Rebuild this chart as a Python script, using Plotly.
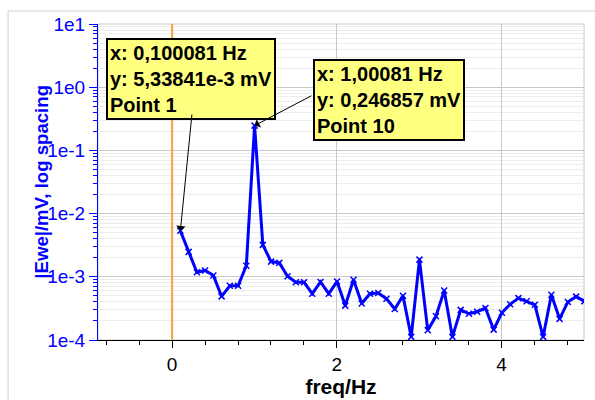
import math
import plotly.graph_objects as go

freq_hz = [0.100081, 0.200162, 0.300243, 0.400324, 0.500405, 0.600486, 0.700567, 0.800648, 0.900729, 1.00081,
           1.100891, 1.200972, 1.301053, 1.401134, 1.501215, 1.601296, 1.701377, 1.801458, 1.901539, 2.00162,
           2.101701, 2.201782, 2.301863, 2.401944, 2.502025, 2.602106, 2.702187, 2.802268, 2.902349, 3.00243,
           3.102511, 3.202592, 3.302673, 3.402754, 3.502835, 3.602916, 3.702997, 3.803078, 3.903159, 4.00324,
           4.103321, 4.203402, 4.303483, 4.403564, 4.503645, 4.603726, 4.703807, 4.803888, 4.903969, 5.00405]

ewe_mv = [5.33841e-3, 2.48e-3, 1.18e-3, 1.26e-3, 1.05e-3, 4.9e-4, 7.2e-4, 7.2e-4, 1.50e-3, 0.246857,
          3.2e-3, 1.74e-3, 1.66e-3, 1.02e-3, 8.2e-4, 8.2e-4, 5.4e-4, 8.3e-4, 5.4e-4, 8.4e-4,
          3.5e-4, 9.0e-4, 3.77e-4, 5.4e-4, 5.55e-4, 4.5e-4, 3.1e-4, 5.0e-4, 1.12e-4, 1.87e-3,
          1.43e-4, 2.37e-4, 6.05e-4, 1.12e-4, 3.0e-4, 2.6e-4, 2.8e-4, 3.2e-4, 1.46e-4, 2.7e-4,
          3.67e-4, 4.6e-4, 4.1e-4, 3.6e-4, 1.12e-4, 5.2e-4, 2.16e-4, 4.0e-4, 4.86e-4, 4.1e-4]

y_tick_vals = [1e-4, 1e-3, 1e-2, 1e-1, 1e0, 1e1]
y_tick_text = ["1e-4", "1e-3", "1e-2", "1e-1", "1e0", "1e1"]
x_tick_vals = [0, 2, 4]
x_tick_text = ["0", "2", "4"]

callout_points = [1, 10]          # 1-based point numbers
callout_x_text = ["0,100081", "1,00081"]
callout_y_text = ["5,33841e-3", "0,246857"]

FONT = "Liberation Sans, Arial, sans-serif"
BLUE = "#0000FF"

minor_y = [k * 10 ** e for e in range(-4, 1) for k in range(2, 10)]

fig = go.Figure()
fig.add_trace(go.Scatter(
    x=freq_hz, y=ewe_mv, mode="lines+markers",
    line=dict(color=BLUE, width=3),
    marker=dict(symbol="x-thin", size=6, line=dict(color=BLUE, width=1.5)),
    cliponaxis=True, showlegend=False,
))

fig.update_layout(
    width=595, height=400,
    margin=dict(l=98, r=11, t=24, b=60),
    paper_bgcolor="white", plot_bgcolor="white",
    font=dict(family=FONT, size=19, color="black"),
    xaxis=dict(
        range=[-0.9, 5.0], tickmode="array", tickvals=x_tick_vals, ticktext=x_tick_text,
        ticks="outside", ticklen=7, tickcolor="black", automargin=False,
        showline=True, linecolor="black", linewidth=1,
        showgrid=True, gridcolor="#c8c8c8", gridwidth=1, zeroline=False,
        minor=dict(tickmode="linear", tick0=0, dtick=0.4, ticks="outside", ticklen=4,
                   tickcolor="black", showgrid=False),
        tickfont=dict(size=19, color="black"),
        title=dict(text="<b>freq/Hz</b>", font=dict(size=21, color="black"), standoff=2),
    ),
    yaxis=dict(
        type="log", range=[-4, 1], tickmode="array", tickvals=y_tick_vals, ticktext=y_tick_text,
        ticks="outside", ticklen=8, tickcolor=BLUE, automargin=False,
        showline=True, linecolor=BLUE, linewidth=1,
        showgrid=True, gridcolor="#c8c8c8", gridwidth=1, zeroline=False,
        minor=dict(tickmode="array", tickvals=minor_y, ticks="outside", ticklen=4,
                   tickcolor=BLUE, showgrid=True, gridcolor="#ececec", gridwidth=1),
        tickfont=dict(size=19, color=BLUE),
    ),
)

# y-axis title placed precisely
fig.add_annotation(xref="paper", yref="paper", x=-0.118, y=0.5, xanchor="center", yanchor="middle",
                   textangle=-90, showarrow=False,
                   text="<b>|Ewe|/mV, log spacing</b>", font=dict(family=FONT, size=18.6, color=BLUE))

# plot frame (top/right grey) and orange zero line
fig.add_shape(type="rect", xref="paper", yref="paper", x0=0, x1=1, y0=0, y1=1,
              line=dict(color="#c8c8c8", width=1), layer="below")
fig.add_shape(type="line", xref="x", yref="paper", x0=0, x1=0, y0=0, y1=1,
              line=dict(color="#F4A23C", width=2))
# outer chart frame
fig.add_shape(type="rect", xref="paper", yref="paper", x0=-0.185, x1=1.05, y0=-0.35, y1=1.041,
              line=dict(color="#d0d0d0", width=1))

# callout boxes: (left x in data, top in log10 y)
box_pos = [(-0.80, 0.778), (1.709, 0.446)]
tail_pos = [(0.242, -0.408), (1.709, -0.123)]
for k, pnum in enumerate(callout_points):
    i = pnum - 1
    txt = (f"<b>x: {callout_x_text[k]} Hz<br>y: {callout_y_text[k]} mV<br>Point {pnum}</b>")
    fig.add_annotation(
        xref="x", yref="y", x=box_pos[k][0], y=box_pos[k][1],
        xanchor="left", yanchor="top", showarrow=False, align="left",
        text=txt, font=dict(family=FONT, size=20, color="black"),
        bgcolor="#FFFF80", bordercolor="black", borderwidth=2, borderpad=2,
    )
    fig.add_annotation(
        xref="x", yref="y", x=freq_hz[i], y=math.log10(ewe_mv[i]),
        axref="x", ayref="y", ax=tail_pos[k][0], ay=tail_pos[k][1],
        text="", showarrow=True, arrowhead=1, arrowsize=1.6, arrowwidth=1,
        arrowcolor="black", standoff=0,
    )

fig.write_html("out.html")
